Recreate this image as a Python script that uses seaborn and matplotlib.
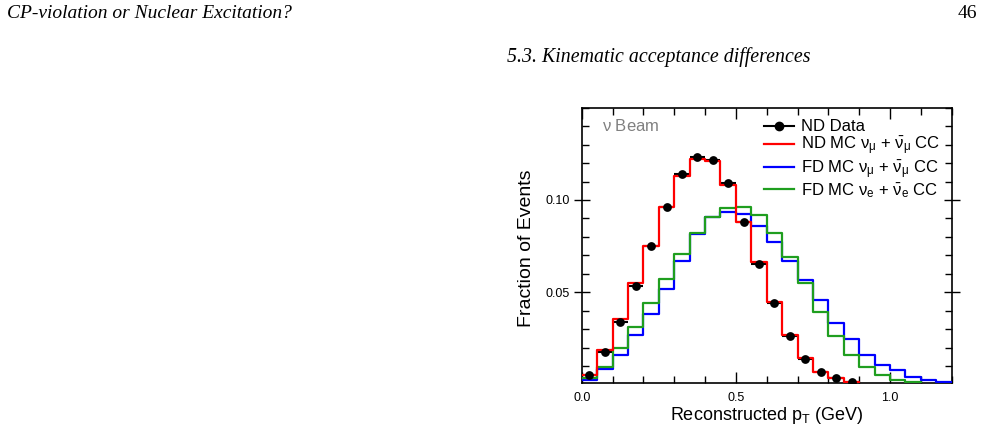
import numpy as np
import pandas as pd
import matplotlib
matplotlib.use("Agg")
import matplotlib.pyplot as plt
import seaborn as sns
from matplotlib.ticker import MultipleLocator, FixedLocator
from matplotlib.lines import Line2D

# ---- data ----
bin_width = 0.05
nd_mc = [0.0051, 0.0188, 0.0357, 0.0551, 0.0753, 0.0960, 0.1128, 0.1222, 0.1213,
         0.1083, 0.0883, 0.0662, 0.0446, 0.0269, 0.0143, 0.0070, 0.0034, 0.0011]
nd_data = [0.0050, 0.0175, 0.0341, 0.0536, 0.0753, 0.0964, 0.1141, 0.1235, 0.1217,
           0.1094, 0.0883, 0.0655, 0.0440, 0.0264, 0.0137, 0.0069, 0.0033, 0.0011]
fd_numu = [0.0025, 0.0083, 0.0161, 0.0269, 0.0381, 0.0520, 0.0671, 0.0816, 0.0906,
           0.0937, 0.0924, 0.0861, 0.0774, 0.0671, 0.0567, 0.0458, 0.0336, 0.0245,
           0.0161, 0.0106, 0.0076, 0.0043, 0.0025, 0.0016]
fd_nue = [0.0034, 0.0097, 0.0197, 0.0314, 0.0440, 0.0570, 0.0708, 0.0823, 0.0910,
          0.0958, 0.0964, 0.0919, 0.0819, 0.0693, 0.0549, 0.0395, 0.0265, 0.0161,
          0.0097, 0.0052, 0.0025, 0.0011]
x_ticks = [0.0, 0.5, 1.0]
x_tick_labels = ["0.0", "0.5", "1.0"]
y_ticks = [0.05, 0.10]
y_tick_labels = ["0.05", "0.10"]

def centers(vals):
    return (np.arange(len(vals)) + 0.5) * bin_width

edges = [round(i * bin_width, 4) for i in range(25)]

plt.rcParams['font.family'] = ['Liberation Sans', 'DejaVu Sans']
plt.rcParams['mathtext.fontset'] = 'custom'
plt.rcParams['mathtext.rm'] = 'Liberation Sans'
plt.rcParams['mathtext.it'] = 'Liberation Sans'
plt.rcParams['mathtext.bf'] = 'Liberation Sans:bold'

fig = plt.figure(figsize=(9.83, 4.37), dpi=100)
ax = fig.add_axes([0.5918, 0.1243, 0.3764, 0.6293])

green = '#1f9e1f'
red = '#ff0000'
blue = '#0000ff'
lab_nd = r'ND MC $\mathregular{\nu_{\mu}}$ + $\mathregular{\bar{\nu}_{\mu}}$ CC'
lab_fdmu = r'FD MC $\mathregular{\nu_{\mu}}$ + $\mathregular{\bar{\nu}_{\mu}}$ CC'
lab_fde = r'FD MC $\mathregular{\nu_{e}}$ + $\mathregular{\bar{\nu}_{e}}$ CC'

# data horizontal error bars (under the red line)
dc = centers(nd_data)
ax.errorbar(dc, nd_data, xerr=bin_width / 2, fmt='none', ecolor='black', elinewidth=1.5, zorder=2)

for vals, col in [(fd_numu, blue), (fd_nue, green)]:
    df = pd.DataFrame({'x': centers(vals), 'w': vals})
    sns.histplot(data=df, x='x', weights='w', bins=edges, element='step', fill=False,
                 color=col, linewidth=1.6, ax=ax, zorder=3)

df_nd = pd.DataFrame({'x': centers(nd_mc), 'w': nd_mc})
sns.histplot(data=df_nd, x='x', weights='w', bins=edges, element='step', fill=False,
             color=red, linewidth=1.6, ax=ax, zorder=4)

sns.scatterplot(x=dc, y=nd_data, color='black', s=40, edgecolor='black', linewidth=0,
                ax=ax, zorder=5)

ax.set_xlim(0, 1.2)
ax.set_ylim(0.001, 0.150)

ax.xaxis.set_major_locator(FixedLocator(x_ticks))
ax.set_xticklabels(x_tick_labels)
ax.xaxis.set_minor_locator(MultipleLocator(0.1))
ax.yaxis.set_major_locator(FixedLocator(y_ticks))
ax.set_yticklabels(y_tick_labels)
ax.yaxis.set_minor_locator(MultipleLocator(0.01))

ax.tick_params(which='both', direction='in', top=True, right=True, labelsize=9)
ax.tick_params(axis='y', which='major', direction='inout', length=12, width=1, pad=2.5)
ax.tick_params(axis='x', which='major', length=8, width=1, pad=7)
ax.tick_params(which='minor', length=5, width=1)
for sp in ax.spines.values():
    sp.set_linewidth(1.2)
    sp.set_color('black')

ax.set_ylabel('Fraction of Events', fontsize=14)
ax.yaxis.set_label_coords(-0.126, 0.49)
ax.set_xlabel(r'Reconstructed p$_{\mathregular{T}}$ (GeV)', fontsize=13)
ax.xaxis.set_label_coords(0.5, -0.082)

ax.text(0.054, 0.915, r'$\mathregular{\nu}$ Beam', transform=ax.transAxes, color='#808080',
        fontsize=12, va='baseline', ha='left')

handles = [
    Line2D([0], [0], color='black', marker='o', markersize=6, linewidth=1.5),
    Line2D([0], [0], color=red, linewidth=1.6),
    Line2D([0], [0], color=blue, linewidth=1.6),
    Line2D([0], [0], color=green, linewidth=1.6),
]
labels = ['ND Data', lab_nd, lab_fdmu, lab_fde]
ax.legend(handles, labels, loc='upper right', bbox_to_anchor=(1.0, 1.0), frameon=False,
          fontsize=12, handlelength=1.8, handletextpad=0.42, labelspacing=0.02,
          borderaxespad=0.3)

# page header texts
fig.text(0.007, 0.958, 'CP-violation or Nuclear Excitation?', family='Liberation Serif',
         style='italic', fontsize=14, va='baseline', ha='left')
fig.text(0.994, 0.958, '46', family='Liberation Serif', fontsize=14, va='baseline', ha='right')
fig.text(0.516, 0.859, '5.3. Kinematic acceptance differences', family='Liberation Serif',
         style='italic', fontsize=14.3, va='baseline', ha='left')

fig.savefig('out.png', dpi=100)
